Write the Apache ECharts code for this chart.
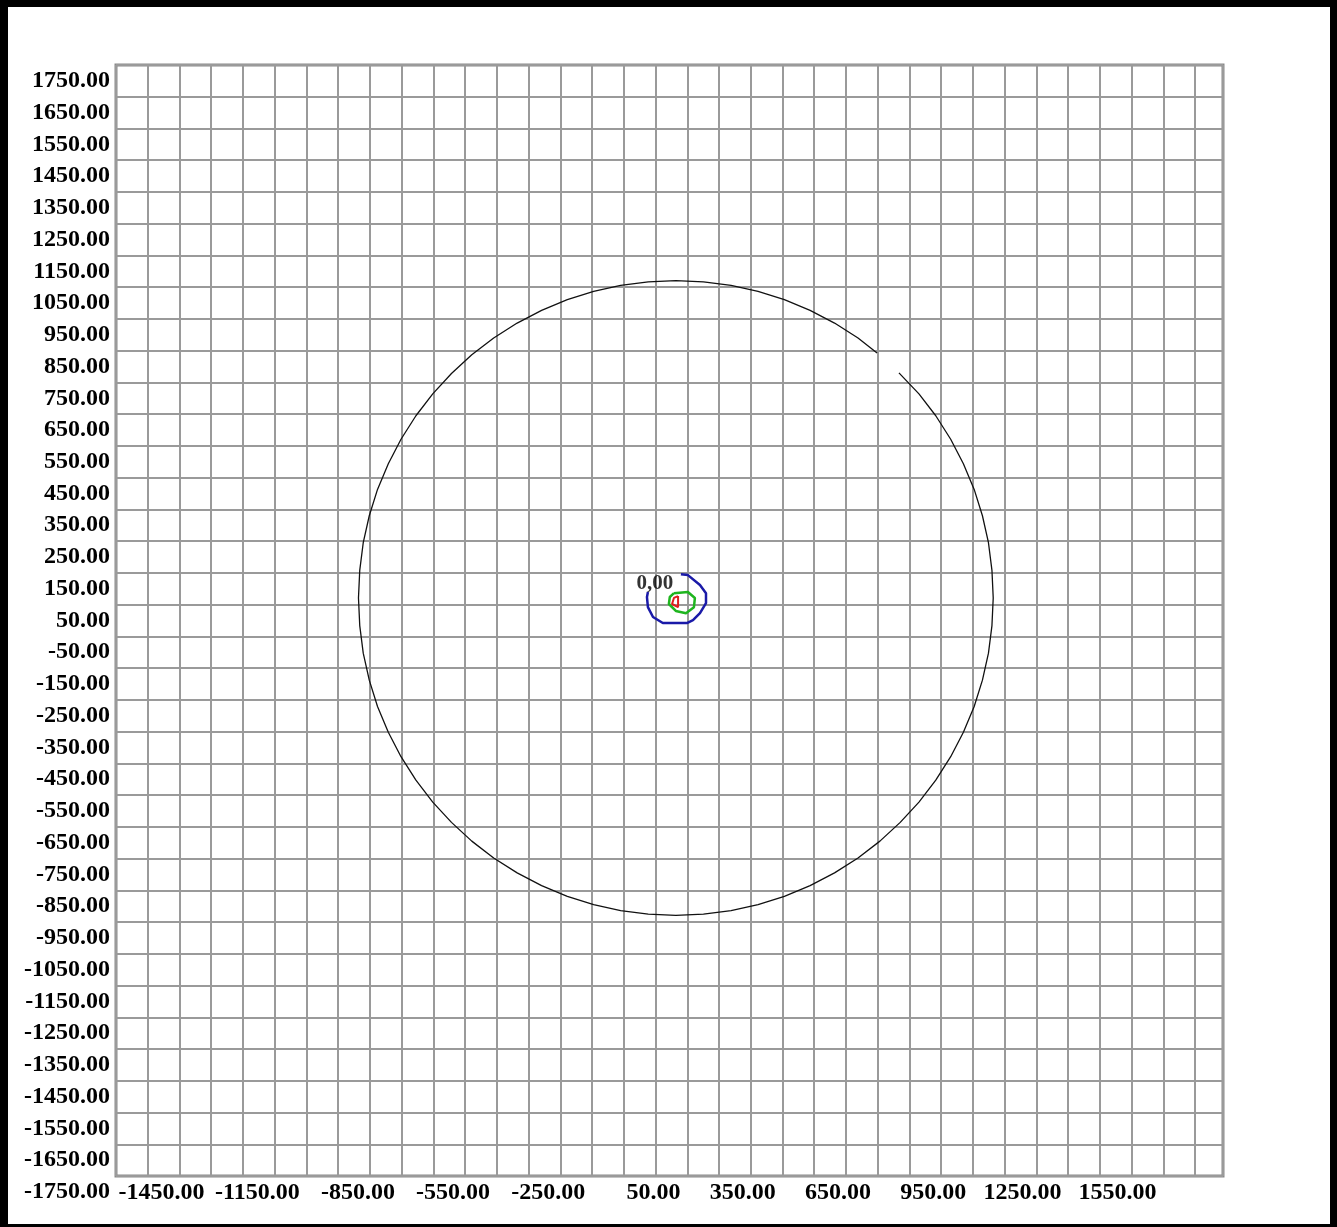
<!DOCTYPE html>
<html>
<head>
<meta charset="utf-8">
<title>contour plot</title>
<script src="https://cdn.jsdelivr.net/npm/echarts@6.0.0/dist/echarts.min.js"></script>
<style>
html, body { margin: 0; padding: 0; background: #fff; }
#frame {
	width: 1322px;
	height: 1217px;
	border-style: solid;
	border-color: #000;
	border-width: 7px 7px 3px 8px;
	background: #fff;
}
</style>
</head>
<body>
<div id="frame"></div>
<script>
// tick labels sit in the grid cells
var xLabelValues = [-1450, -1150, -850, -550, -250, 50, 350, 650, 950, 1250, 1550];
var yLabelValues = [1750, 1650, 1550, 1450, 1350, 1250, 1150, 1050, 950, 850, 750, 650, 550, 450,
	350, 250, 150, 50, -50, -150, -250, -350, -450, -550, -650, -750, -850, -950, -1050, -1150,
	-1250, -1350, -1450, -1550, -1650];
var cornerLabelValue = -1750;

// outer ring (x, y), open at the upper right
var ringPoints = [
	[798, 893], [738, 940], [664, 987], [587, 1027], [506, 1061], [423, 1087], [338, 1106],
	[251, 1117], [164, 1121], [77, 1117], [-10, 1106], [-95, 1087], [-178, 1061], [-259, 1027],
	[-336, 987], [-410, 940], [-479, 887], [-543, 828], [-602, 764], [-655, 695], [-702, 621],
	[-742, 544], [-776, 463], [-802, 380], [-821, 295], [-832, 208], [-836, 121], [-832, 34],
	[-821, -53], [-802, -138], [-776, -221], [-742, -302], [-702, -379], [-655, -453], [-602, -522],
	[-543, -586], [-479, -645], [-410, -698], [-336, -745], [-259, -785], [-178, -819], [-95, -845],
	[-10, -864], [77, -875], [164, -879], [251, -875], [338, -864], [423, -845], [506, -819],
	[587, -785], [664, -745], [738, -698], [807, -645], [871, -586], [930, -522], [983, -453],
	[1030, -379], [1070, -302], [1104, -221], [1130, -138], [1149, -53], [1160, 34], [1164, 121],
	[1160, 208], [1149, 295], [1130, 380], [1104, 463], [1070, 544], [1030, 621], [983, 695],
	[930, 764], [867, 830]
];

// inner contours
var blueContour = [
	[180, 196], [202, 193], [240, 162], [259, 136], [259, 105], [240, 73], [218, 51], [199, 42],
	[123, 42], [92, 61], [76, 92], [73, 124], [76, 140]
];
var greenContour = [
	[158, 136], [202, 140], [224, 121], [221, 92], [196, 73], [164, 80], [142, 102], [145, 124], [158, 136]
];
var redContour = [
	[171, 127], [171, 92], [152, 102], [158, 121], [171, 127]
];
var contourLabel = [98, 166];
var contourLabelText = "0,00";

var xMin = -1600, xMax = 1888;
var gridW = 1107;

var labelFont = {
	color: "#000",
	fontFamily: "Liberation Serif",
	fontWeight: "bold",
	fontSize: 24
};

// x labels are right aligned 25px past the end of their cell
var labelShift = 50 + 25 * (xMax - xMin) / gridW;

var chart = echarts.init(document.getElementById("frame"), null, { renderer: "canvas" });

function fmt(v) {
	return Number(v).toFixed(2);
}

var option = {
	animation: false,
	backgroundColor: "#fff",
	grid: {
		left: 108,
		top: 58,
		width: gridW,
		height: 1111,
		show: true,
		borderColor: "#8a8a8a",
		borderWidth: 3,
		backgroundColor: "transparent"
	},
	xAxis: [
		{
			type: "value",
			min: xMin,
			max: xMax,
			interval: 100,
			axisLine: { show: false },
			axisTick: {
				show: true,
				length: 5,
				lineStyle: { color: "#999", width: 2 }
			},
			splitLine: {
				show: true,
				lineStyle: { color: "#9a9a9a", width: 2 }
			},
			axisLabel: { show: false }
		},
		{
			// label-only axis
			type: "value",
			position: "bottom",
			min: xMin - labelShift,
			max: xMax - labelShift,
			axisLine: { show: false },
			axisTick: { show: false },
			splitLine: { show: false },
			axisLabel: Object.assign({
				customValues: xLabelValues,
				align: "right",
				margin: 5,
				formatter: fmt
			}, labelFont)
		}
	],
	yAxis: {
		type: "value",
		min: -1700,
		max: 1800,
		interval: 100,
		axisLine: { show: false },
		axisTick: { show: false },
		splitLine: {
			show: true,
			lineStyle: { color: "#9a9a9a", width: 2 }
		},
		axisLabel: Object.assign({
			customValues: yLabelValues,
			margin: 6,
			formatter: fmt
		}, labelFont)
	},
	series: [
		{
			name: "ring",
			type: "line",
			data: ringPoints,
			showSymbol: false,
			symbol: "none",
			smooth: false,
			lineStyle: { color: "#111", width: 1.3 }
		},
		{
			name: "blue",
			type: "line",
			data: blueContour,
			showSymbol: false,
			symbol: "none",
			lineStyle: { color: "#1a1aa8", width: 2.5 }
		},
		{
			name: "green",
			type: "line",
			data: greenContour,
			showSymbol: false,
			symbol: "none",
			lineStyle: { color: "#1fb51f", width: 2.5 }
		},
		{
			name: "red",
			type: "line",
			data: redContour,
			showSymbol: false,
			symbol: "none",
			lineStyle: { color: "#e01e1e", width: 2 }
		},
		{
			name: "label",
			type: "scatter",
			data: [contourLabel],
			symbolSize: 0,
			label: {
				show: true,
				position: "inside",
				formatter: contourLabelText,
				color: "#000",
				fontFamily: "Liberation Serif",
				fontWeight: "bold",
				fontSize: 21
			}
		}
	]
};

chart.setOption(option);

// the last y label falls below the grid, in the corner
var corner = chart.convertToPixel({ xAxisIndex: 0, yAxisIndex: 0 }, [cornerLabelValue, cornerLabelValue]);
chart.setOption({
	graphic: [{
		type: "text",
		x: 108 - 6,
		y: corner[1],
		style: {
			text: fmt(cornerLabelValue),
			align: "right",
			verticalAlign: "middle",
			fill: "#000",
			font: "bold 24px 'Liberation Serif'"
		}
	}]
});
</script>
</body>
</html>
